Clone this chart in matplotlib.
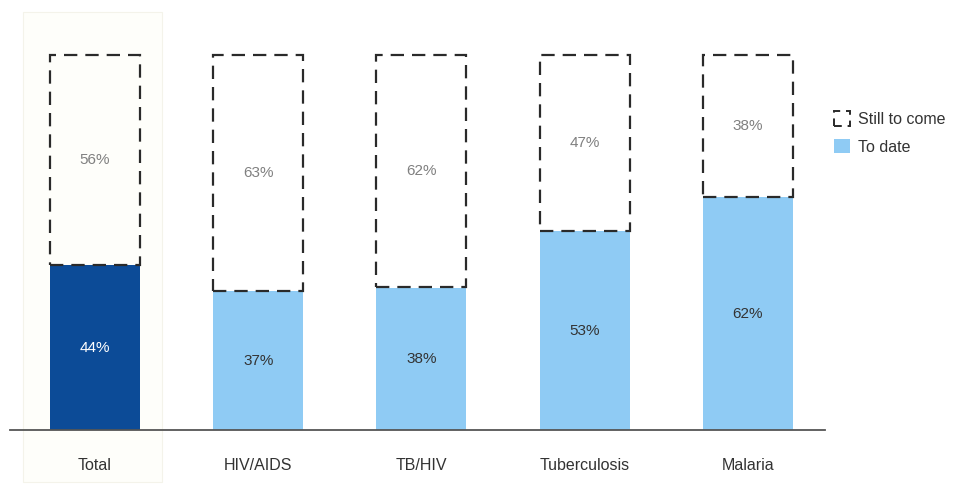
import matplotlib
matplotlib.use("Agg")
import matplotlib.pyplot as plt
from matplotlib.patches import Rectangle, Patch
from matplotlib import font_manager

categories = ["Total", "HIV/AIDS", "TB/HIV", "Tuberculosis", "Malaria"]
to_date = [44, 37, 38, 53, 62]
still_to_come = [56, 63, 62, 47, 38]

fams = {f.name for f in font_manager.fontManager.ttflist}
fam = "Liberation Sans Narrow" if "Liberation Sans Narrow" in fams else "Liberation Sans"
plt.rcParams["font.family"] = [fam, "DejaVu Sans"]

W, H = 958, 486
fig = plt.figure(figsize=(W / 100, H / 100), dpi=100)

# faint panel behind Total
fig.patches.append(Rectangle((23 / W, 1 - 482 / H), (162 - 23) / W, (482 - 12) / H,
                             transform=fig.transFigure, facecolor="#fefefa",
                             edgecolor="#f4f3ea", linewidth=0.8, zorder=-5))

left_px, right_px, base_px, top_px = 10, 825, 430, 40
ax = fig.add_axes([left_px / W, 1 - base_px / H, (right_px - left_px) / W, (base_px - top_px) / H])
ax.set_zorder(1)
ax.patch.set_alpha(0)
spacing = 163.25
x0 = 95
ax.set_xlim((left_px - x0) / spacing, (right_px - x0) / spacing)
ax.set_ylim(0, 100 * (base_px - top_px) / 375)

width = 90 / spacing
xs = list(range(len(categories)))
colors = ["#0c4b97"] + ["#8fcbf4"] * (len(categories) - 1)

ax.bar(xs, to_date, width=width, color=colors, zorder=2)
ax.bar(xs, still_to_come, bottom=to_date, width=width, facecolor="none",
       edgecolor="#2a2a2a", linewidth=1.6, linestyle=(0, (6, 3.6)), zorder=3)

for i, (a, b) in enumerate(zip(to_date, still_to_come)):
    ax.text(i, a / 2, f"{a}%", ha="center", va="center", fontsize=11,
            color="white" if i == 0 else "#333333", zorder=4)
    ax.text(i, a + b / 2, f"{b}%", ha="center", va="center", fontsize=11,
            color="#808080", zorder=4)

for s in ["top", "right", "left"]:
    ax.spines[s].set_visible(False)
ax.spines["bottom"].set_color("#555555")
ax.spines["bottom"].set_linewidth(1.3)
ax.set_yticks([])
ax.set_xticks(xs)
ax.set_xticklabels(categories, fontsize=11.5, color="#333333")
ax.tick_params(axis="x", length=0, pad=20)

handles = [Patch(facecolor="none", edgecolor="#2a2a2a", linewidth=1.4, linestyle=(0, (4, 3))),
           Patch(facecolor="#8fcbf4", edgecolor="none")]
fig.legend(handles, ["Still to come", "To date"], loc="upper left",
           bbox_to_anchor=(820 / W, 1 - 97 / H), frameon=False, fontsize=11.5,
           handlelength=1.0, handleheight=1.0, handletextpad=0.45, labelspacing=0.75,
           labelcolor="#333333")

fig.savefig("out.png", dpi=100, facecolor="white")
